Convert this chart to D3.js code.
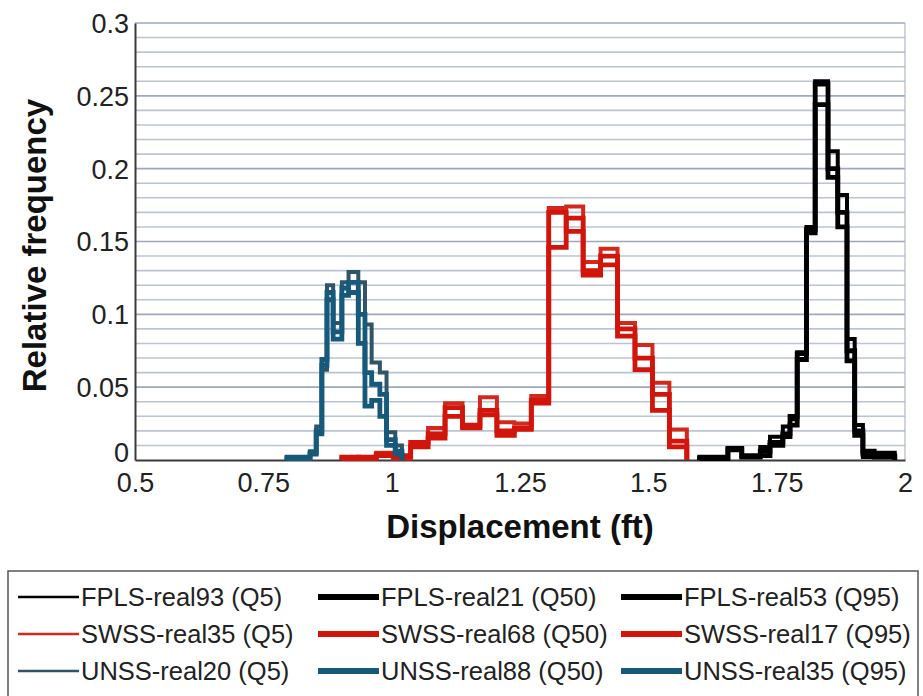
<!DOCTYPE html>
<html>
<head>
<meta charset="utf-8">
<script src="https://cdn.jsdelivr.net/npm/d3@7"></script>
<style>
  html, body { margin: 0; padding: 0; background: #fff; }
  svg { display: block; font-family: "Liberation Sans", Arial, Helvetica, sans-serif; }
</style>
</head>
<body>
<svg id="chart" width="923" height="696"></svg>
<script>
// Histogram bin edges (ft) for each model group
const fplsEdges = [1.600, 1.655, 1.682, 1.718, 1.737, 1.762, 1.776, 1.790, 1.808, 1.825, 1.850, 1.869, 1.887, 1.902, 1.918, 1.940, 1.980];
const swssEdges = [0.903, 0.936, 0.970, 1.003, 1.037, 1.071, 1.104, 1.138, 1.172, 1.205, 1.239, 1.272, 1.306, 1.340, 1.373, 1.407, 1.440, 1.474, 1.508, 1.541, 1.575];
const unssEdges = [0.796, 0.841, 0.853, 0.864, 0.874, 0.886, 0.903, 0.916, 0.935, 0.948, 0.961, 0.977, 0.990, 1.007, 1.020];

// Relative frequencies per bin
const fplsQ5  = [0.001, 0.008, 0.002, 0.009, 0.016, 0.023, 0.028, 0.074, 0.160, 0.260, 0.212, 0.182, 0.083, 0.024, 0.002, 0.005];
const fplsQ50 = [0.001, 0.007, 0.002, 0.003, 0.012, 0.018, 0.024, 0.069, 0.156, 0.244, 0.194, 0.160, 0.068, 0.017, 0.006, 0.002];
const fplsQ95 = [0.002, 0.008, 0.003, 0.006, 0.010, 0.016, 0.030, 0.073, 0.158, 0.258, 0.200, 0.170, 0.075, 0.020, 0.004, 0.003];

const swssQ5  = [0.002, 0.002, 0.005, 0.001, 0.010, 0.022, 0.039, 0.023, 0.043, 0.026, 0.025, 0.044, 0.173, 0.174, 0.136, 0.145, 0.094, 0.079, 0.053, 0.021];
const swssQ50 = [0.002, 0.001, 0.004, 0.002, 0.012, 0.015, 0.030, 0.024, 0.031, 0.017, 0.021, 0.039, 0.146, 0.166, 0.127, 0.134, 0.085, 0.062, 0.034, 0.009];
const swssQ95 = [0.001, 0.002, 0.003, 0.003, 0.009, 0.018, 0.036, 0.022, 0.034, 0.020, 0.022, 0.041, 0.170, 0.157, 0.130, 0.140, 0.090, 0.070, 0.045, 0.013];

const unssQ5  = [0.001, 0.006, 0.023, 0.062, 0.120, 0.094, 0.122, 0.129, 0.122, 0.093, 0.067, 0.060, 0.019, 0.010];
const unssQ50 = [0.002, 0.004, 0.020, 0.069, 0.110, 0.083, 0.113, 0.115, 0.080, 0.037, 0.041, 0.030, 0.010, 0.004];
const unssQ95 = [0.001, 0.005, 0.018, 0.065, 0.115, 0.088, 0.118, 0.122, 0.100, 0.060, 0.052, 0.045, 0.014, 0.006];

// Axis ticks and labels
const xTickValues = [0.5, 0.75, 1, 1.25, 1.5, 1.75, 2];
const xTickLabels = ["0.5", "0.75", "1", "1.25", "1.5", "1.75", "2"];
const yTickValues = [0, 0.05, 0.1, 0.15, 0.2, 0.25, 0.3];
const yTickLabels = ["0", "0.05", "0.1", "0.15", "0.2", "0.25", "0.3"];

// Legend names, in row order
const seriesNames = [
  "FPLS-real93 (Q5)", "FPLS-real21 (Q50)", "FPLS-real53 (Q95)",
  "SWSS-real35 (Q5)", "SWSS-real68 (Q50)", "SWSS-real17 (Q95)",
  "UNSS-real20 (Q5)", "UNSS-real88 (Q50)", "UNSS-real35 (Q95)"
];

const colors = { FPLS: "#000000", SWSS: "#d2150b", UNSS: "#16597a" };
const q5Colors = { FPLS: "#000000", SWSS: "#d4281e", UNSS: "#2f5566" };

const series = [
  { name: seriesNames[0], group: "FPLS", q: 5,  edges: fplsEdges, values: fplsQ5 },
  { name: seriesNames[1], group: "FPLS", q: 50, edges: fplsEdges, values: fplsQ50 },
  { name: seriesNames[2], group: "FPLS", q: 95, edges: fplsEdges, values: fplsQ95 },
  { name: seriesNames[3], group: "SWSS", q: 5,  edges: swssEdges, values: swssQ5 },
  { name: seriesNames[4], group: "SWSS", q: 50, edges: swssEdges, values: swssQ50 },
  { name: seriesNames[5], group: "SWSS", q: 95, edges: swssEdges, values: swssQ95 },
  { name: seriesNames[6], group: "UNSS", q: 5,  edges: unssEdges, values: unssQ5 },
  { name: seriesNames[7], group: "UNSS", q: 50, edges: unssEdges, values: unssQ50 },
  { name: seriesNames[8], group: "UNSS", q: 95, edges: unssEdges, values: unssQ95 }
];

const svg = d3.select("#chart");
const plot = { left: 135, right: 905, top: 23, bottom: 460 };

const x = d3.scaleLinear().domain([0.5, 2]).range([plot.left, plot.right]);
const y = d3.scaleLinear().domain([0, 0.3]).range([plot.bottom, plot.top]);

svg.append("rect").attr("width", 923).attr("height", 696).attr("fill", "#fff");

// Horizontal grid every 0.01
const gridValues = d3.range(1, 31).map(i => i / 100);
svg.append("g").selectAll("line").data(gridValues).join("line")
  .attr("x1", plot.left).attr("x2", plot.right)
  .attr("y1", d => y(d)).attr("y2", d => y(d))
  .attr("stroke", (d, i) => ((i + 1) % 5 === 0) ? "#9ea9bb" : "#bac4d3")
  .attr("stroke-width", 1.6);

// Right frame edge
svg.append("line")
  .attr("x1", plot.right).attr("x2", plot.right)
  .attr("y1", plot.top).attr("y2", plot.bottom)
  .attr("stroke", "#b0b8c4").attr("stroke-width", 1.2);

// Axes
const xAxis = d3.axisBottom(x).tickValues(xTickValues)
  .tickFormat((d, i) => xTickLabels[i]).tickSize(0).tickPadding(13);
const gx = svg.append("g").attr("transform", `translate(0,${plot.bottom})`).call(xAxis);
gx.select(".domain").attr("stroke", "#3a3a3a").attr("stroke-width", 2);
gx.selectAll("text").attr("font-size", 27).attr("fill", "#222").attr("dy", "0.71em");

const yAxis = d3.axisLeft(y).tickValues(yTickValues)
  .tickFormat((d, i) => yTickLabels[i]).tickSize(0).tickPadding(6);
const gy = svg.append("g").attr("transform", `translate(${plot.left},0)`).call(yAxis);
gy.select(".domain").attr("stroke", "#3a3a3a").attr("stroke-width", 2);
gy.selectAll("text").attr("font-size", 27).attr("fill", "#222")
  .attr("dy", (d, i) => i === 0 ? "0.05em" : "0.35em");

// Histogram step outlines
const step = d3.line()
  .x(d => x(d[0]))
  .y(d => y(d[1]))
  .curve(d3.curveStepAfter);

function stepPoints(s) {
  const pts = [[s.edges[0], 0]];
  s.values.forEach((v, i) => pts.push([s.edges[i], v]));
  pts.push([s.edges[s.values.length], 0]);
  return pts;
}

svg.append("g").selectAll("path").data(series).join("path")
  .attr("d", d => step(stepPoints(d)))
  .attr("fill", "none")
  .attr("stroke", d => d.q === 5 ? q5Colors[d.group] : colors[d.group])
  .attr("stroke-width", d => d.q === 5 ? 4 : 4.8)
  .attr("stroke-linejoin", "miter");

// Axis titles
svg.append("text")
  .attr("x", (plot.left + plot.right) / 2).attr("y", 538)
  .attr("text-anchor", "middle")
  .attr("font-size", 33).attr("font-weight", "bold").attr("fill", "#111")
  .text("Displacement (ft)");

svg.append("text")
  .attr("transform", `translate(46,${(plot.top + plot.bottom) / 2 + 4}) rotate(-90)`)
  .attr("text-anchor", "middle")
  .attr("font-size", 33).attr("font-weight", "bold").attr("fill", "#111")
  .text("Relative frequency");

// Legend
svg.append("rect")
  .attr("x", 8).attr("y", 571).attr("width", 910).attr("height", 140)
  .attr("fill", "#fff").attr("stroke", "#555").attr("stroke-width", 1.5);

const colX = [18, 318, 621];
const rowY = [597, 634, 671];
const legend = svg.append("g").selectAll("g").data(series).join("g")
  .attr("transform", (d, i) => `translate(${colX[i % 3]},${rowY[Math.floor(i / 3)]})`);

legend.append("line")
  .attr("x1", 0).attr("x2", 61).attr("y1", 0).attr("y2", 0)
  .attr("stroke", d => d.q === 5 ? q5Colors[d.group] : colors[d.group])
  .attr("stroke-width", d => d.q === 5 ? 2.4 : 6);

legend.append("text")
  .attr("x", 63).attr("y", 0).attr("dy", "0.35em")
  .attr("font-size", 25.5).attr("fill", "#222")
  .text(d => d.name);
</script>
</body>
</html>
